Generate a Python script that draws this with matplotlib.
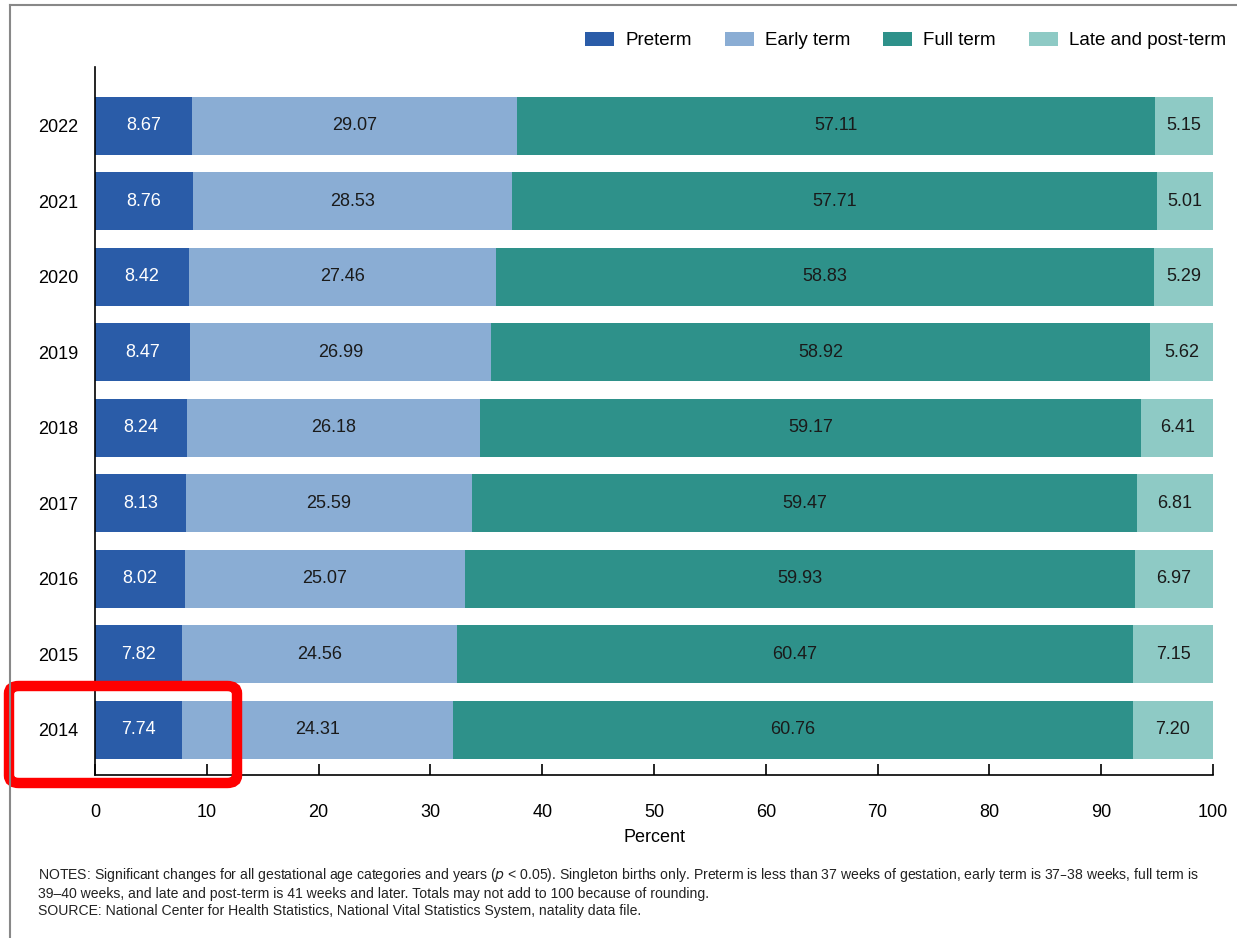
import numpy as np
import matplotlib.pyplot as plt
from matplotlib.patches import FancyBboxPatch
from matplotlib.lines import Line2D

plt.rcParams['font.family'] = ['Liberation Sans', 'DejaVu Sans']

years = ['2014', '2015', '2016', '2017', '2018', '2019', '2020', '2021', '2022']
preterm = [7.74, 7.82, 8.02, 8.13, 8.24, 8.47, 8.42, 8.76, 8.67]
early_term = [24.31, 24.56, 25.07, 25.59, 26.18, 26.99, 27.46, 28.53, 29.07]
full_term = [60.76, 60.47, 59.93, 59.47, 59.17, 58.92, 58.83, 57.71, 57.11]
late_term = [7.20, 7.15, 6.97, 6.81, 6.41, 5.62, 5.29, 5.01, 5.15]

categories = ['Preterm', 'Early term', 'Full term', 'Late and post-term']
colors = ['#2a5ca8', '#8aadd4', '#2e918a', '#8ecac5']
text_colors = ['white', '#1a1a1a', '#1a1a1a', '#1a1a1a']

fig = plt.figure(figsize=(12.37, 9.38), dpi=100)
ax = fig.add_axes([0.0768, 0.1738, 0.9038, 0.7548])

y = np.arange(len(years))
left = np.zeros(len(years))
for vals, name, c, tc in zip([preterm, early_term, full_term, late_term], categories, colors, text_colors):
    vals = np.array(vals)
    ax.barh(y, vals, left=left, height=0.77, color=c, label=name)
    for yi, l, v in zip(y, left, vals):
        ax.text(l + v / 2, yi, f'{v:.2f}', ha='center', va='center', color=tc, fontsize=13)
    left = left + vals

ax.set_xlim(0, 100)
ax.set_ylim(-0.6, 8.78)
ax.set_yticks(y)
ax.set_yticklabels(years, fontsize=13)
ax.tick_params(axis='y', length=0, pad=12)
ax.set_xticks(range(0, 101, 10))
ax.tick_params(axis='x', direction='in', length=8, width=1.2, labelsize=13, pad=21)
ax.spines['top'].set_visible(False)
ax.spines['right'].set_visible(False)
ax.spines['left'].set_linewidth(1.2)
ax.spines['bottom'].set_linewidth(1.2)
ax.set_xlabel('Percent', fontsize=13, labelpad=6)

fig.legend(loc='upper right', bbox_to_anchor=(1.005, 0.984), ncol=4, frameon=False,
           fontsize=13.5, handlelength=1.55, handleheight=0.75, columnspacing=1.75, handletextpad=0.6)

# page frame
fig.add_artist(Line2D([10 / 1237, 1], [1 - 5 / 938, 1 - 5 / 938], color='#888888', lw=1.5))
fig.add_artist(Line2D([10 / 1237, 10 / 1237], [0, 1 - 5 / 938], color='#888888', lw=1.5))

notes = ('NOTES: Significant changes for all gestational age categories and years ($\\it{p}$ < 0.05). Singleton births only. '
         'Preterm is less than 37 weeks of gestation, early term is 37\u201338 weeks, full term is\n'
         '39\u201340 weeks, and late and post-term is 41 weeks and later. Totals may not add to 100 because of rounding.\n'
         'SOURCE: National Center for Health Statistics, National Vital Statistics System, natality data file.')
fig.text(38 / 1237, 1 - 866 / 938, notes, fontsize=10.1, color='#222222', va='top', linespacing=1.25)

# red highlight box
box = FancyBboxPatch((9 / 1237, 1 - 783 / 938), 228 / 1237, 97 / 938,
                     boxstyle='round,pad=0,rounding_size=0.008', transform=fig.transFigure,
                     fill=False, edgecolor='#ff0000', linewidth=7.5)
fig.add_artist(box)

fig.savefig('out.png', dpi=100)
